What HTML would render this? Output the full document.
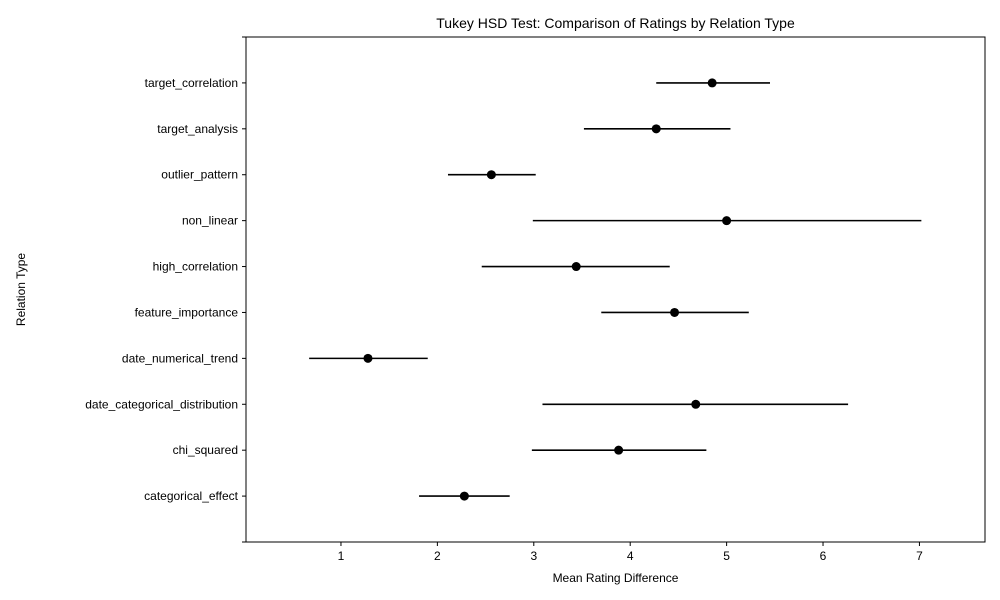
<!DOCTYPE html>
<html><head><meta charset="utf-8"><style>
html,body{margin:0;padding:0;background:#fff;}
svg{display:block;font-family:"Liberation Sans","DejaVu Sans",sans-serif;}
</style></head><body>
<svg id="chart" width="1000" height="600"></svg>
<script>
const categories = ["categorical_effect","chi_squared","date_categorical_distribution","date_numerical_trend","feature_importance","high_correlation","non_linear","outlier_pattern","target_analysis","target_correlation"];
const means = [2.28,3.88,4.68,1.28,4.46,3.44,5.00,2.56,4.27,4.85];
const lowers = [1.81,2.98,3.09,0.67,3.70,2.46,2.99,2.11,3.52,4.27];
const uppers = [2.75,4.79,6.26,1.90,5.23,4.41,7.02,3.02,5.04,5.45];
const xTicks = [1,2,3,4,5,6,7];

const L=246,R=985,T=37,B=542;
const xMin=0.015,xMax=7.68;
const sx=v=>L+(v-xMin)/(xMax-xMin)*(R-L);
const sy=i=>B-(i+1)/(categories.length+1)*(B-T);
const svg=document.getElementById('chart');
const NS='http://www.w3.org/2000/svg';
function mk(tag,attrs,text){const e=document.createElementNS(NS,tag);for(const k in attrs)e.setAttribute(k,attrs[k]);if(text!==undefined)e.textContent=text;svg.appendChild(e);return e;}

let frame=mk('rect',{x:L,y:T,width:R-L,height:B-T,fill:'none',stroke:'#000','stroke-width':1});



xTicks.forEach(t=>{
  const x=sx(t);
  let tk=mk('line',{x1:x,x2:x,y1:B,y2:B+4,stroke:'#000'});
  
  
  let lb=mk('text',{x:x,y:B+18,'font-size':12,'text-anchor':'middle'},String(t));
  
  
});
[T,B].forEach(y=>{
  let tk=mk('line',{x1:L-4,x2:L,y1:y,y2:y,stroke:'#000'});
  
  
});
categories.forEach((c,i)=>{
  const y=sy(i);
  let tk=mk('line',{x1:L-4,x2:L,y1:y,y2:y,stroke:'#000'});
  
  
  let lb=mk('text',{x:L-8,y:y+4,'font-size':12,'text-anchor':'end'},c);
  
  
  let eb=mk('line',{x1:sx(lowers[i]),x2:sx(uppers[i]),y1:y,y2:y,stroke:'#000','stroke-width':1.6});
  
  
  let pt=mk('circle',{cx:sx(means[i]),cy:y,r:4.5,fill:'#000'});
  
  
});
let tt=mk('text',{x:(L+R)/2,y:28,'font-size':14,'text-anchor':'middle'},'Tukey HSD Test: Comparison of Ratings by Relation Type');


let xl=mk('text',{x:(L+R)/2,y:582,'font-size':12,'text-anchor':'middle'},'Mean Rating Difference');


let yl=mk('text',{x:25,y:(T+B)/2,'font-size':12,'text-anchor':'middle',transform:'rotate(-90 25 '+((T+B)/2)+')'},'Relation Type');


</script>
</body></html>
